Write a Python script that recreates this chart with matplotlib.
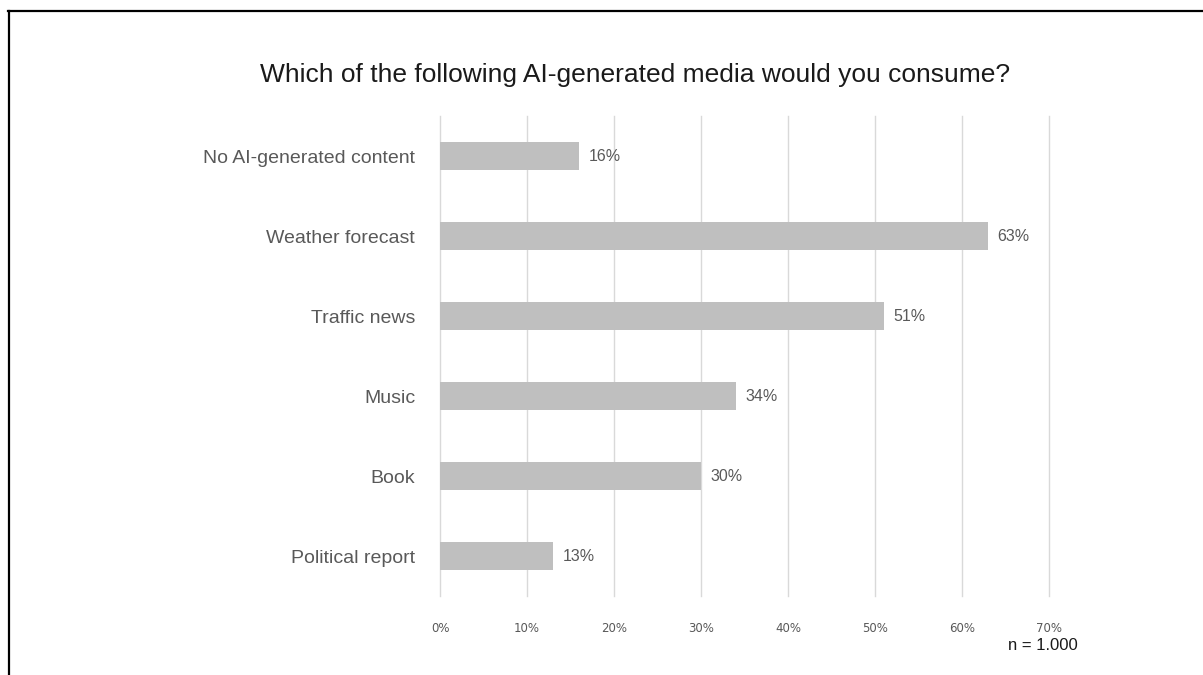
import matplotlib.pyplot as plt
from matplotlib.lines import Line2D
from matplotlib.ticker import FuncFormatter

# survey data
categories = ["No AI-generated content", "Weather forecast", "Traffic news",
              "Music", "Book", "Political report"]
shares = [16, 63, 51, 34, 30, 13]
ticks = [0, 10, 20, 30, 40, 50, 60, 70]

fig = plt.figure(figsize=(12.03, 6.75), dpi=100)
ax = fig.add_axes([0.3658, 0.117, 0.5062, 0.711])

pos = list(range(len(categories)))
ax.barh(pos, shares, height=0.36, color="#bfbfbf", zorder=3)
ax.set_ylim(len(categories) - 0.5, -0.5)
ax.set_xlim(0, 70)
ax.set_xticks(ticks)
ax.xaxis.set_major_formatter(FuncFormatter(lambda v, p: f"{v:.0f}%"))
ax.set_yticks(pos)
ax.set_yticklabels(categories, family="Liberation Sans", fontsize=14, color="#595959")
ax.grid(axis="x", color="#d9d9d9", linewidth=1, zorder=0)
for g in ax.get_xgridlines():
    g.set_clip_on(False)
for s in ax.spines.values():
    s.set_visible(False)
ax.tick_params(axis="y", length=0, pad=18)
ax.tick_params(axis="x", length=0, pad=19, labelsize=8.5, labelcolor="#595959")

for y, v in zip(pos, shares):
    ax.text(v + 1.1, y, f"{v}%", va="center", ha="left", fontsize=11.5,
            color="#595959", family="Liberation Sans")

fig.text(0.528, 0.889, "Which of the following AI-generated media would you consume?",
         ha="center", va="center", fontsize=19, color="#1a1a1a", family="Liberation Sans")
fig.text(0.838, 0.044, "n = 1.000", ha="left", va="center", fontsize=12,
         color="#1a1a1a", family="Liberation Sans")

# frame lines at left and top
fig.add_artist(Line2D([0.0072, 0.0072], [0, 0.9837], color="black", linewidth=1.6,
                      transform=fig.transFigure))
fig.add_artist(Line2D([0.0065, 1.0], [0.983, 0.983], color="black", linewidth=1.6,
                      transform=fig.transFigure))

fig.savefig("out.png", dpi=100)
